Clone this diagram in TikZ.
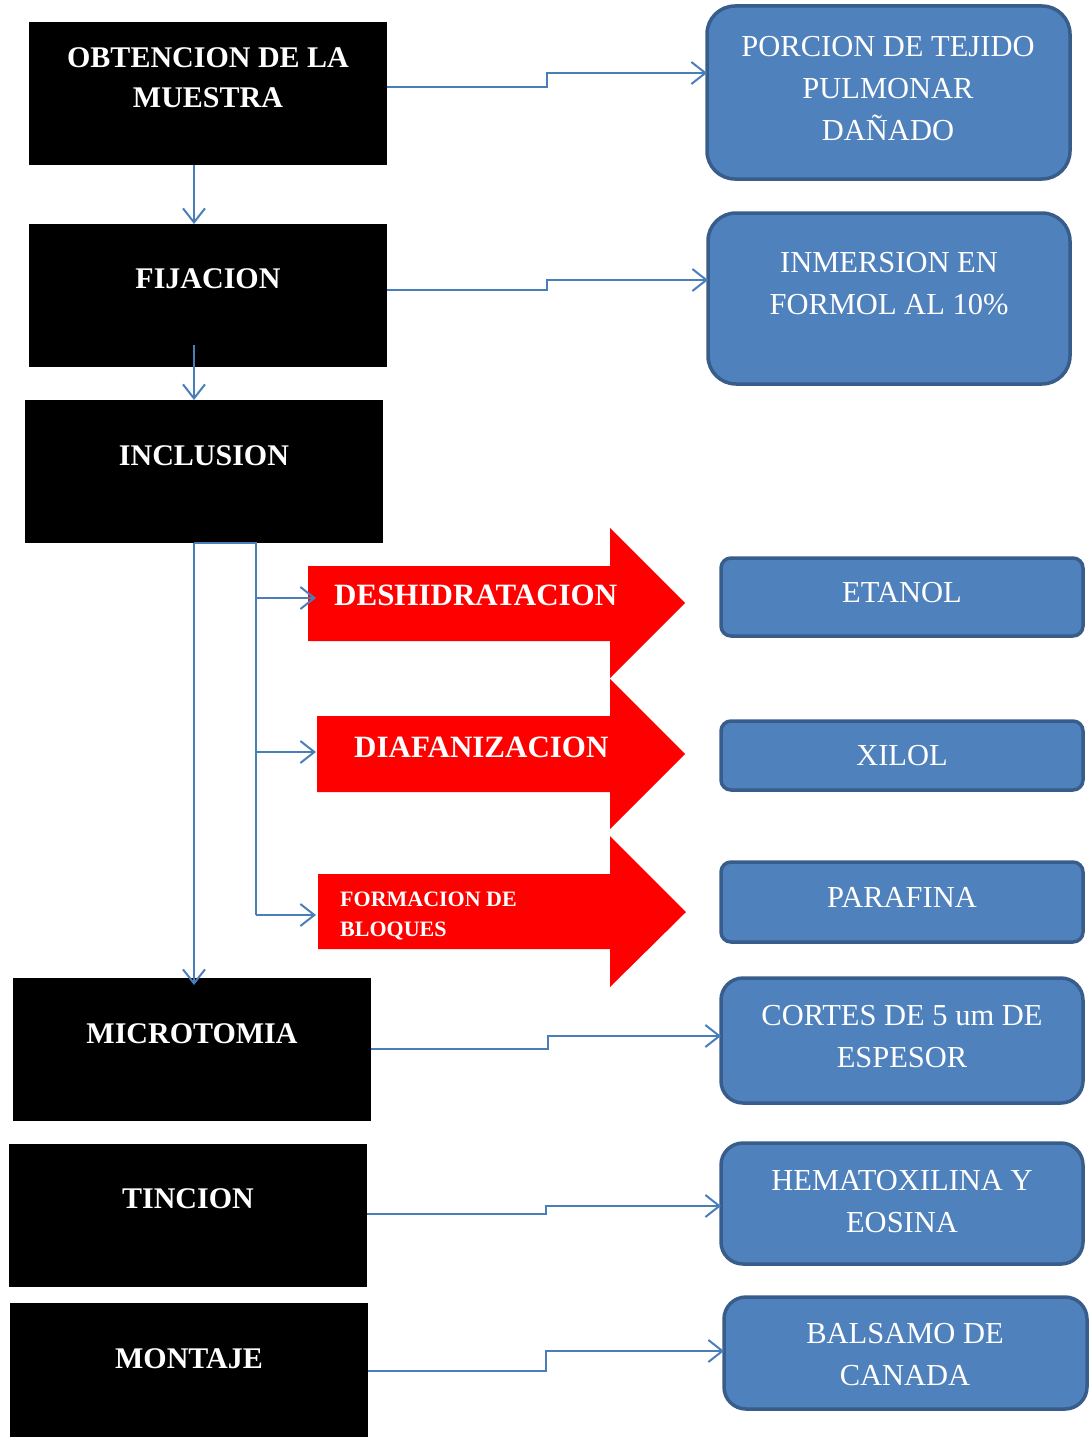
\documentclass[tikz,border=0pt]{standalone}
\usepackage{fontspec}
\setmainfont{Liberation Serif}
\usetikzlibrary{arrows.meta}
\definecolor{bfill}{HTML}{4F81BD}
\definecolor{bline}{HTML}{385D8A}
\definecolor{conn}{HTML}{4A7EBB}
\definecolor{redar}{HTML}{FF0000}
\tikzset{
  blackbox/.style={fill=black, draw=none, minimum width=358pt, minimum height=143pt, anchor=north west, inner sep=0pt, outer sep=0pt},
  bluebox/.style={fill=bfill, draw=bline, line width=3.5pt, rounded corners=#1, anchor=north west, inner sep=0pt, outer sep=0pt},
  btxt/.style={text=white, font=\fontsize{30}{40}\selectfont\bfseries, align=center, text depth=0pt, inner sep=0pt},
  wtxt/.style={text=white, font=\fontsize{30.5}{42}\selectfont, align=center, text depth=0pt, inner sep=0pt},
  rtxt/.style={text=white, font=\fontsize{31}{40}\selectfont\bfseries, anchor=west, text depth=0pt, inner sep=0pt},
  conline/.style={draw=conn, line width=2.2pt, -{Straight Barb[length=14pt,width=22pt,line width=2pt]}},
  plainline/.style={draw=conn, line width=2.2pt},
}
\begin{document}
\begin{tikzpicture}[x=1pt,y=-1pt]
\useasboundingbox (0,0) rectangle (1091,1437);
% black boxes
\node[blackbox] (obt) at (29,22) {};
\node[blackbox] (fij) at (29,224) {};
\node[blackbox] (inc) at (25,400) {};
\node[blackbox] (mic) at (13,978) {};
\node[blackbox] (tin) at (9,1144) {};
\node[blackbox] (mon) at (10,1303) {};
\node[btxt] (tobt) at (208,78) {OBTENCION DE LA\\MUESTRA};
\node[btxt] (tfij) at (208,279) {FIJACION};
\node[btxt] (tinc) at (204,456) {INCLUSION};
\node[btxt] (tmic) at (192,1034) {MICROTOMIA};
\node[btxt] (ttin) at (188,1199) {TINCION};
\node[btxt] (tmon) at (189,1359) {MONTAJE};
% blue boxes
\node[bluebox=28pt, minimum width=363pt, minimum height=173pt] (por) at (707,6) {};
\node[bluebox=28pt, minimum width=362pt, minimum height=171pt] (inm) at (708,213) {};
\node[bluebox=10pt, minimum width=362pt, minimum height=78pt] (eta) at (721,558) {};
\node[bluebox=10pt, minimum width=362pt, minimum height=69pt] (xil) at (721,721) {};
\node[bluebox=10pt, minimum width=362pt, minimum height=80pt] (par) at (721,862) {};
\node[bluebox=22pt, minimum width=362pt, minimum height=125pt] (cor) at (721,978) {};
\node[bluebox=22pt, minimum width=362pt, minimum height=121pt] (hem) at (721,1143) {};
\node[bluebox=22pt, minimum width=363pt, minimum height=112pt] (bal) at (724,1297) {};
\node[wtxt] (tpor) at (888,88) {PORCION DE TEJIDO\\PULMONAR\\DAÑADO};
\node[wtxt] (tinm) at (889,283) {INMERSION EN\\FORMOL AL 10\%};
\node[wtxt] (teta) at (902,592) {ETANOL};
\node[wtxt] (txil) at (902,755) {XILOL};
\node[wtxt] (tpar) at (902,897) {PARAFINA};
\node[wtxt] (tcor) at (902,1036) {CORTES DE 5 um DE\\ESPESOR};
\node[wtxt] (them) at (902,1201) {HEMATOXILINA Y\\EOSINA};
\node[wtxt] (tbal) at (905,1354) {BALSAMO DE\\CANADA};
% red arrows
\fill[redar] (308,566) -- (610,566) -- (610,528) -- (685,603) -- (610,678) -- (610,641) -- (308,641) -- cycle;
\fill[redar] (317,716) -- (610,716) -- (610,679) -- (685,754) -- (610,829) -- (610,792) -- (317,792) -- cycle;
\fill[redar] (318,874) -- (610,874) -- (610,836) -- (686,912) -- (610,987) -- (610,949) -- (318,949) -- cycle;
\node[rtxt] (tdes) at (334,595) {DESHIDRATACION};
\node[rtxt] (tdia) at (354,747) {DIAFANIZACION};
\node[rtxt, font=\fontsize{22}{30}\selectfont\bfseries, align=left] (tfor) at (340,914) {FORMACION DE\\BLOQUES};
\coordinate (ades) at (316,598);
\coordinate (adia) at (316,752);
\coordinate (afor) at (316,915);
\coordinate (brtop) at (256,543);
% connectors
\draw[conline] (obt.east |- 0,87) -- (547,87) -- (547,73) -- (por.west |- 0,73);
\draw[conline] (fij.east |- 0,290) -- (547,290) -- (547,280) -- (inm.west |- 0,280);
\draw[conline] (obt.south -| 194,0) -- (fij.north -| 194,0);
\draw[conline] (194,345) -- (inc.north -| 194,0);
\draw[conline] (inc.south -| 194,0) -- (194,985);
\draw[plainline] (inc.south -| 194,0) -- (brtop) -- (256,915);
\draw[conline] (256,598) -- (ades);
\draw[conline] (256,752) -- (adia);
\draw[conline] (256,915) -- (afor);
\draw[conline] (mic.east |- 0,1049) -- (548,1049) -- (548,1036) -- (cor.west |- 0,1036);
\draw[conline] (tin.east |- 0,1214) -- (546,1214) -- (546,1206) -- (hem.west |- 0,1206);
\draw[conline] (mon.east |- 0,1371) -- (546,1371) -- (546,1351) -- (bal.west |- 0,1351);
\end{tikzpicture}
\end{document}
